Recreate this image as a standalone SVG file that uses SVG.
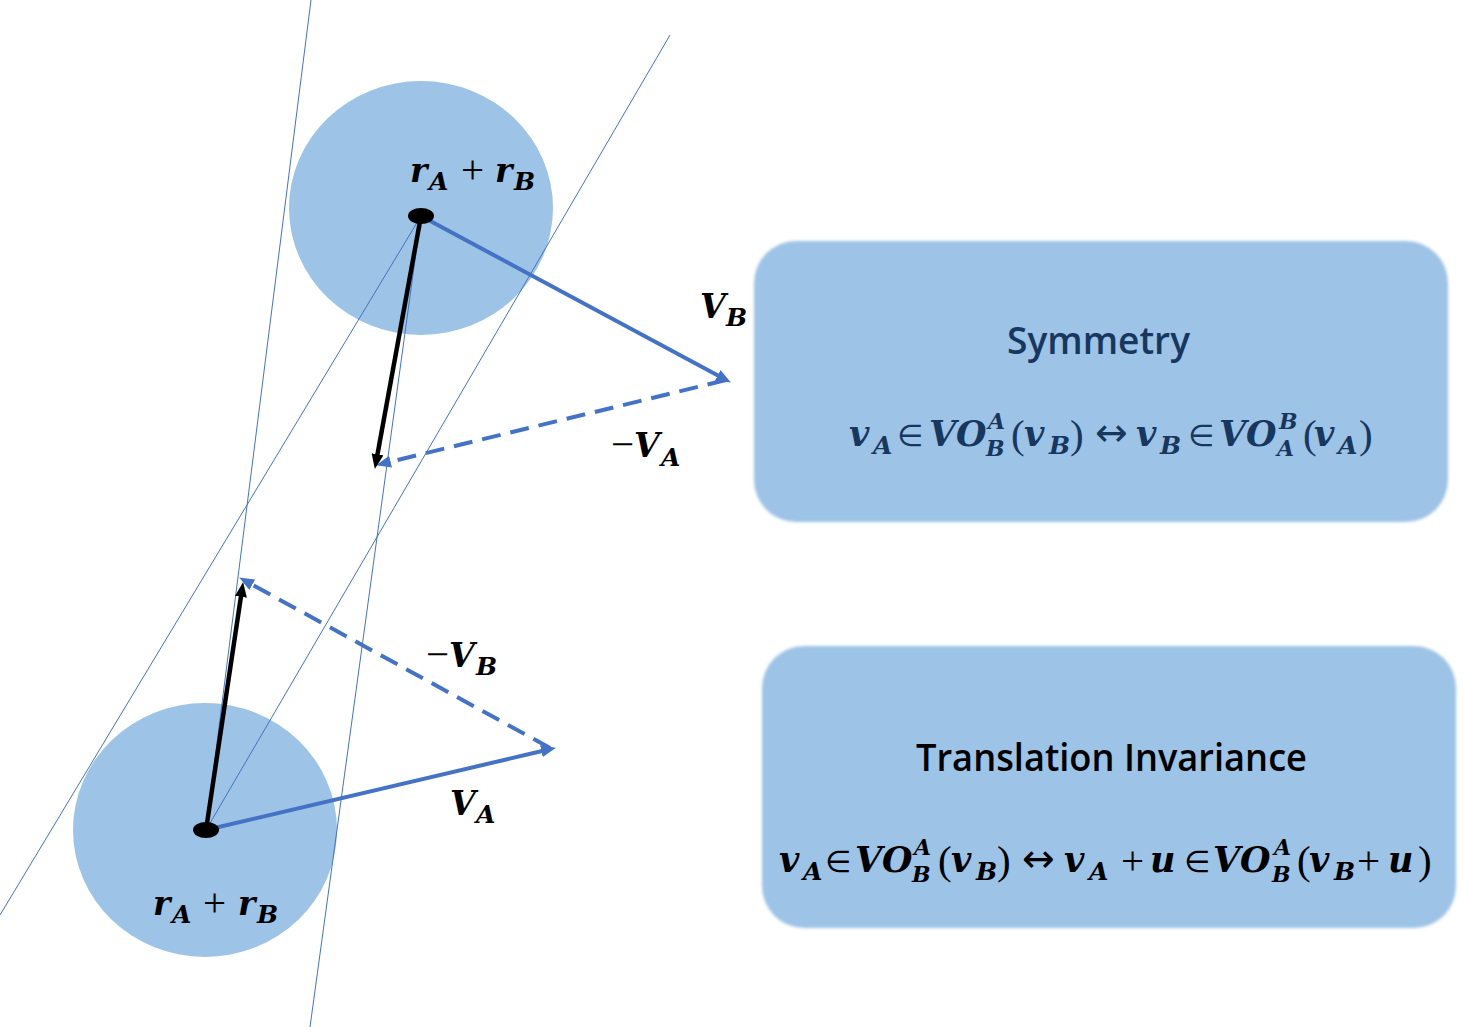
<svg xmlns="http://www.w3.org/2000/svg" width="1469" height="1027" viewBox="0 0 1469 1027">
<defs>
<style>
.disk{fill:#9DC3E6}
.box{fill:#9DC3E6}
.dot{fill:#000}
.thin{stroke:#4472C4;stroke-width:1;fill:none}
.vb{stroke:#4472C4;stroke-width:4;fill:none}
.vbd{stroke:#4472C4;stroke-width:4;fill:none;stroke-dasharray:19 10}
.vk{stroke:#000;stroke-width:4.5;fill:none}
.m{font-family:"DejaVu Serif","Liberation Serif",serif;font-weight:bold;font-style:italic;font-size:33px}
.f{font-family:"DejaVu Serif","Liberation Serif",serif;font-weight:bold;font-style:italic;font-size:35px}
.s{font-size:25px}
.ss{font-size:22px}
.op{font-family:"DejaVu Sans","Liberation Sans",sans-serif;font-weight:normal;font-style:normal;font-size:30px}
.pl{font-family:"Liberation Serif","DejaVu Serif",serif;font-weight:normal;font-style:normal;font-size:41px}
.ar{font-family:"DejaVu Sans","Liberation Sans",sans-serif;font-weight:normal;font-style:normal;font-size:39px}
.title{font-family:"Open Sans","Noto Sans",sans-serif;font-weight:600;font-size:37px}
.navy{fill:#17375E}
.blk{fill:#000}
</style>
<filter id="soft" x="-5%" y="-5%" width="110%" height="110%">
<feGaussianBlur stdDeviation="1.6"/>
</filter>
<marker id="ab" viewBox="0 0 15 12" markerWidth="15" markerHeight="12" markerUnits="userSpaceOnUse" refX="4" refY="6" orient="auto">
<path d="M0,0 L15,6 L0,12 z" fill="#4472C4"/>
</marker>
<marker id="ak" viewBox="0 0 15 12" markerWidth="15" markerHeight="12" markerUnits="userSpaceOnUse" refX="4" refY="6" orient="auto">
<path d="M0,0 L15,6 L0,12 z" fill="#000"/>
</marker>
</defs>
<rect width="1469" height="1027" fill="#fff"/>

<g id="circle-top">
<ellipse class="disk" cx="421" cy="208" rx="132" ry="127"/>
</g>
<g id="circle-bottom">
<ellipse class="disk" cx="205" cy="830" rx="132" ry="127"/>
</g>

<g id="connectors">
<line class="thin" x1="311" y1="0" x2="206" y2="830"/>
<line class="thin" x1="670" y1="35" x2="206" y2="830"/>
<line class="thin" x1="421" y1="216" x2="0" y2="915"/>
<line class="thin" x1="421" y1="216" x2="310" y2="1027"/>

<line class="vb" x1="421" y1="216" x2="721.2" y2="377.3" marker-end="url(#ab)"/>
<line class="vbd" x1="726" y1="380" x2="386.7" y2="462.6" marker-end="url(#ab)"/>
<line class="vk" x1="421" y1="216" x2="376.8" y2="458.2" marker-end="url(#ak)"/>

<line class="vk" x1="206" y1="830" x2="241.5" y2="592.9" marker-end="url(#ak)"/>
<line class="vbd" x1="550" y1="748" x2="248.8" y2="582.8" marker-end="url(#ab)"/>
<line class="vb" x1="206" y1="830" x2="545.3" y2="750.3" marker-end="url(#ab)"/>
</g>

<g id="dot-top"><ellipse class="dot" cx="421" cy="216" rx="13" ry="8"/></g>
<g id="dot-bottom"><ellipse class="dot" cx="206" cy="830" rx="13" ry="8"/></g>

<g id="labels">
<text class="m"><tspan x="410" y="182">r</tspan><tspan class="s" x="429" y="190">A</tspan><tspan class="pl" x="461" y="183">+</tspan><tspan x="495" y="182">r</tspan><tspan class="s" x="514" y="190">B</tspan></text>
<text class="m"><tspan x="153" y="915">r</tspan><tspan class="s" x="172" y="923">A</tspan><tspan class="pl" x="203" y="916">+</tspan><tspan x="238" y="915">r</tspan><tspan class="s" x="257" y="923">B</tspan></text>
<text class="m"><tspan x="700" y="318">V</tspan><tspan class="s" x="726" y="326">B</tspan></text>
<text class="m"><tspan class="pl" x="611" y="458">−</tspan><tspan x="634" y="457">V</tspan><tspan class="s" x="661" y="466">A</tspan></text>
<text class="m"><tspan class="pl" x="426" y="668">−</tspan><tspan x="449" y="667">V</tspan><tspan class="s" x="476" y="675">B</tspan></text>
<text class="m"><tspan x="450" y="815">V</tspan><tspan class="s" x="476" y="823">A</tspan></text>
</g>

<g id="box-symmetry">
<rect class="box" x="754" y="241" width="694" height="281" rx="42" ry="42" filter="url(#soft)"/>
<text class="title navy" x="1007" y="354" textLength="183" lengthAdjust="spacingAndGlyphs">Symmetry</text>
<text class="f navy"><tspan x="849" y="446">v</tspan><tspan class="s" x="873" y="454">A</tspan><tspan class="op" x="897" y="446">∈</tspan><tspan x="929" y="446">V</tspan><tspan x="956" y="446">O</tspan><tspan class="ss" x="988" y="429">A</tspan><tspan class="ss" x="986" y="456">B</tspan><tspan class="pl" x="1011" y="448">(</tspan><tspan x="1024" y="446">v</tspan><tspan class="s" x="1049" y="454">B</tspan><tspan class="pl" x="1070" y="448">)</tspan><tspan class="ar" x="1095" y="446">↔</tspan><tspan x="1136" y="446">v</tspan><tspan class="s" x="1160" y="454">B</tspan><tspan class="op" x="1188" y="446">∈</tspan><tspan x="1219" y="446">V</tspan><tspan x="1246" y="446">O</tspan><tspan class="ss" x="1279" y="429">B</tspan><tspan class="ss" x="1277" y="456">A</tspan><tspan class="pl" x="1303" y="448">(</tspan><tspan x="1314" y="446">v</tspan><tspan class="s" x="1338" y="454">A</tspan><tspan class="pl" x="1359" y="448">)</tspan></text>
</g>

<g id="box-translation">
<rect class="box" x="762" y="646" width="694" height="282" rx="42" ry="42" filter="url(#soft)"/>
<text class="title blk" x="916" y="771" textLength="391" lengthAdjust="spacingAndGlyphs">Translation Invariance</text>
<text class="f blk"><tspan x="779" y="872">v</tspan><tspan class="s" x="803" y="880">A</tspan><tspan class="op" x="825" y="872">∈</tspan><tspan x="855" y="872">V</tspan><tspan x="882" y="872">O</tspan><tspan class="ss" x="914" y="855">A</tspan><tspan class="ss" x="912" y="882">B</tspan><tspan class="pl" x="938" y="874">(</tspan><tspan x="951" y="872">v</tspan><tspan class="s" x="976" y="880">B</tspan><tspan class="pl" x="997" y="874">)</tspan><tspan class="ar" x="1022" y="872">↔</tspan><tspan x="1064" y="872">v</tspan><tspan class="s" x="1089" y="880">A</tspan><tspan class="pl" x="1121" y="874">+</tspan><tspan x="1150" y="872">u</tspan><tspan class="op" x="1184" y="872">∈</tspan><tspan x="1213" y="872">V</tspan><tspan x="1240" y="872">O</tspan><tspan class="ss" x="1274" y="855">A</tspan><tspan class="ss" x="1272" y="882">B</tspan><tspan class="pl" x="1297" y="874">(</tspan><tspan x="1309" y="872">v</tspan><tspan class="s" x="1334" y="880">B</tspan><tspan class="pl" x="1357" y="874">+</tspan><tspan x="1388" y="872">u</tspan><tspan class="pl" x="1418" y="874">)</tspan></text>
</g>
</svg>
